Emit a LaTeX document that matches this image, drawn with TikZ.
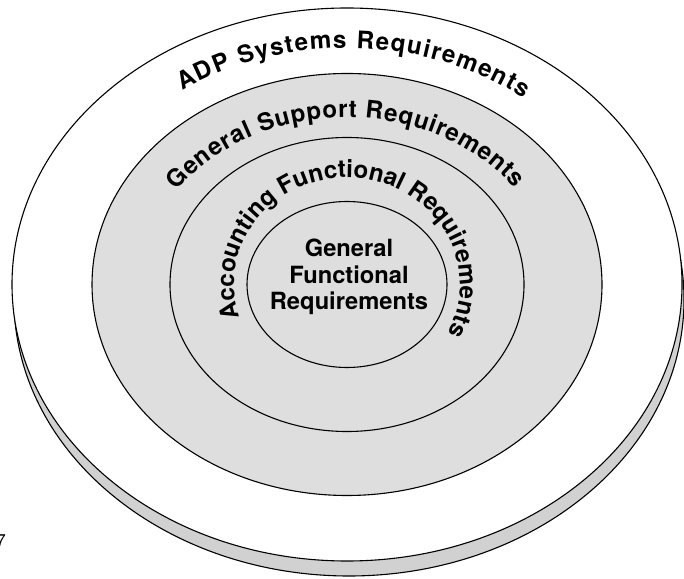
\documentclass[tikz,border=0pt]{standalone}
\usepackage{fontspec}
\setmainfont{TeX Gyre Heros}
\usetikzlibrary{decorations.text}
\newcommand\curvefont{\fontsize{24.2pt}{26pt}\selectfont\bfseries}
\tikzset{
  ring/.style={draw=black, line width=1.1pt},
  grayfill/.style={fill=black!13},
  curvetext/.style={decorate, decoration={text along path, text align=fit to path}}
}
\begin{document}
\begin{tikzpicture}[x=1pt,y=1pt]
\useasboundingbox (0,0) rectangle (684,578);
\coordinate (c) at (347,293.5);
\coordinate (cr) at (349,278.5);
% rim (lower copy of the disc)
\path[ring, fill=black!18] (cr) ellipse [x radius=335pt, y radius=276.5pt];
% top surface
\path[ring, fill=white] (c) ellipse [x radius=335pt, y radius=276.5pt];
\path[ring, grayfill] (c) ellipse [x radius=255pt, y radius=211pt];
\path[ring, grayfill] (c) ellipse [x radius=177pt, y radius=147pt];
\path[ring, grayfill] (c) ellipse [x radius=100pt, y radius=83pt];
% curved labels
\path[curvetext, decoration={text={|\curvefont|ADP Systems Requirements}}]
  ([shift={(125:287pt and 236.5pt)}]c) arc[start angle=125, end angle=52, x radius=287pt, y radius=236.5pt];
\path[curvetext, decoration={text={|\curvefont|General Support Requirements}}]
  ([shift={(146:205pt and 167pt)}]c) arc[start angle=146, end angle=35, x radius=205pt, y radius=167pt];
\path[curvetext, decoration={text={|\curvefont|Accounting Functional Requirements}}]
  ([shift={(198:113pt and 107pt)}]c) arc[start angle=198, end angle=-27, x radius=113pt, y radius=107pt];
% center label
\node[align=center, font=\fontsize{23.7pt}{26.5pt}\selectfont\bfseries, inner sep=0pt] (core) at (349,301)
  {General\\Functional\\Requirements};
% cropped figure number
\node[anchor=south east, inner sep=0pt, font=\fontsize{17pt}{17pt}\selectfont] (fignum) at (6,31) {7};
\end{tikzpicture}
\end{document}
